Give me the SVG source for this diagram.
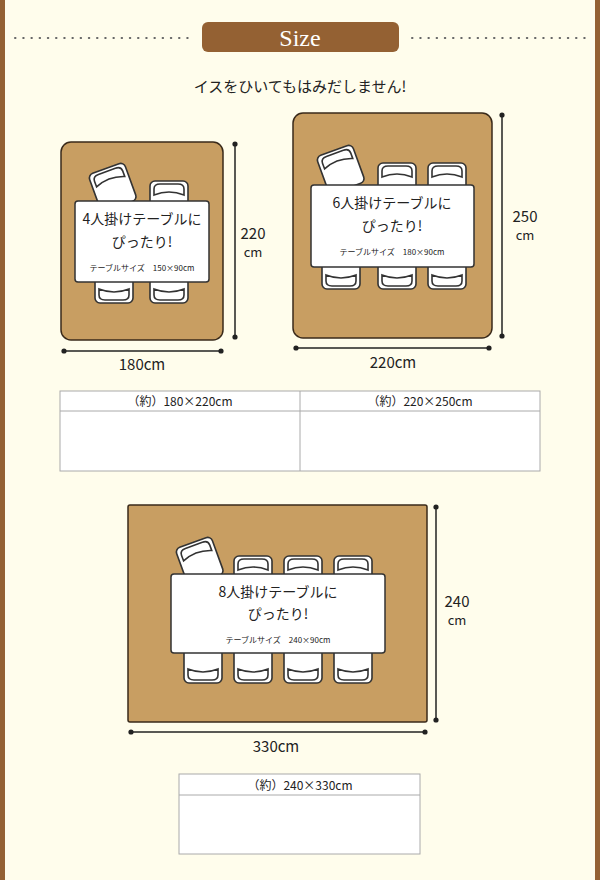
<svg xmlns="http://www.w3.org/2000/svg" xmlns:xlink="http://www.w3.org/1999/xlink" width="600" height="880" viewBox="0 0 600 880">
<style>
.rug{fill:#c89e62;stroke:#3a2a1a;stroke-width:1.5}
.tbl{fill:#fff;stroke:#333;stroke-width:1.5}
.ch{fill:#fff;stroke:#333;stroke-width:1.6}
.dim{stroke:#222;stroke-width:1.5}
.t{font-family:"Noto Sans CJK JP","Liberation Sans",sans-serif;fill:#222}
.grid{fill:#fff;stroke:#aaa;stroke-width:1}
</style>
<defs>
<g id="chair"><rect class="ch" x="0" y="0" width="38" height="40" rx="5"/><path class="ch" d="M4 14 V8 Q4 3 10 3 H28 Q34 3 34 8 V14 Q19 8 4 14Z"/></g>
<circle id="dot" r="2.6" fill="#222"/>
</defs>
<rect width="600" height="880" fill="#fffdec"/>
<rect x="0" y="0" width="5" height="880" fill="#946133"/>
<rect x="595" y="0" width="5" height="880" fill="#946133"/>
<g id="header">
<line x1="15" y1="38" x2="190" y2="38" stroke="#666" stroke-width="2" stroke-dasharray="0.5 7.7" stroke-linecap="round"/>
<line x1="412" y1="38" x2="590" y2="38" stroke="#666" stroke-width="2" stroke-dasharray="0.5 7.7" stroke-linecap="round"/>
<rect x="202" y="22" width="197" height="30" rx="6" fill="#946133"/>
<text x="300" y="46" text-anchor="middle" font-family="Liberation Serif,serif" font-size="24" fill="#fff">Size</text>
<text class="t" x="300" y="92" text-anchor="middle" font-size="15">イスをひいてもはみだしません!</text>
</g>
<g id="rug1">
<rect class="rug" x="61" y="142" width="162" height="198" rx="10"/>
<use xlink:href="#chair" transform="translate(88,175) rotate(-20)"/>
<use xlink:href="#chair" x="150" y="181"/>
<use xlink:href="#chair" transform="translate(95,303) scale(1,-1)"/>
<use xlink:href="#chair" transform="translate(150,303) scale(1,-1)"/>
<rect class="tbl" x="75" y="201" width="134" height="81" rx="3"/>
<text class="t" x="142" y="224" text-anchor="middle" font-size="14">4人掛けテーブルに</text>
<text class="t" x="142" y="247" text-anchor="middle" font-size="14">ぴったり!</text>
<text class="t" x="142" y="271" text-anchor="middle" font-size="8">テーブルサイズ　150×90cm</text>
</g>
<g id="rug2">
<rect class="rug" x="293" y="113" width="199" height="225" rx="10"/>
<use xlink:href="#chair" transform="translate(316,157) rotate(-20)"/>
<use xlink:href="#chair" x="378" y="163"/>
<use xlink:href="#chair" x="428" y="163"/>
<use xlink:href="#chair" transform="translate(322,289) scale(1,-1)"/>
<use xlink:href="#chair" transform="translate(378,289) scale(1,-1)"/>
<use xlink:href="#chair" transform="translate(428,289) scale(1,-1)"/>
<rect class="tbl" x="311" y="185" width="163" height="82" rx="3"/>
<text class="t" x="392" y="208" text-anchor="middle" font-size="14">6人掛けテーブルに</text>
<text class="t" x="392" y="231" text-anchor="middle" font-size="14">ぴったり!</text>
<text class="t" x="392" y="255" text-anchor="middle" font-size="8">テーブルサイズ　180×90cm</text>
</g>
<g id="rug3">
<rect class="rug" x="128" y="505" width="299" height="217" rx="2"/>
<use xlink:href="#chair" transform="translate(175,549) rotate(-20)"/>
<use xlink:href="#chair" x="234" y="556"/>
<use xlink:href="#chair" x="284" y="556"/>
<use xlink:href="#chair" x="334" y="556"/>
<use xlink:href="#chair" transform="translate(184,683) scale(1,-1)"/>
<use xlink:href="#chair" transform="translate(234,683) scale(1,-1)"/>
<use xlink:href="#chair" transform="translate(284,683) scale(1,-1)"/>
<use xlink:href="#chair" transform="translate(334,683) scale(1,-1)"/>
<rect class="tbl" x="171" y="574" width="214" height="79" rx="3"/>
<text class="t" x="278" y="597" text-anchor="middle" font-size="14">8人掛けテーブルに</text>
<text class="t" x="278" y="619" text-anchor="middle" font-size="14">ぴったり!</text>
<text class="t" x="278" y="643" text-anchor="middle" font-size="8">テーブルサイズ　240×90cm</text>
</g>
<g id="connectors">
<line class="dim" x1="235" y1="144" x2="235" y2="337"/><use xlink:href="#dot" x="235" y="144"/><use xlink:href="#dot" x="235" y="337"/>
<line class="dim" x1="64" y1="351" x2="221" y2="351"/><use xlink:href="#dot" x="64" y="351"/><use xlink:href="#dot" x="221" y="351"/>
<line class="dim" x1="502" y1="115" x2="502" y2="336"/><use xlink:href="#dot" x="502" y="115"/><use xlink:href="#dot" x="502" y="336"/>
<line class="dim" x1="296" y1="348" x2="489" y2="348"/><use xlink:href="#dot" x="296" y="348"/><use xlink:href="#dot" x="489" y="348"/>
<line class="dim" x1="436" y1="507" x2="436" y2="720"/><use xlink:href="#dot" x="436" y="507"/><use xlink:href="#dot" x="436" y="720"/>
<line class="dim" x1="131" y1="732" x2="425" y2="732"/><use xlink:href="#dot" x="131" y="732"/><use xlink:href="#dot" x="425" y="732"/>
</g>
<g id="labels" class="t" font-size="15" text-anchor="middle">
<text x="253" y="239">220</text><text x="253" y="257" font-size="13">cm</text>
<text x="142" y="370">180cm</text>
<text x="525" y="222">250</text><text x="525" y="240" font-size="13">cm</text>
<text x="393" y="368">220cm</text>
<text x="457" y="607">240</text><text x="457" y="625" font-size="13">cm</text>
<text x="276" y="752">330cm</text>
</g>
<g id="table12">
<rect class="grid" x="60" y="391" width="480" height="80"/>
<line x1="60" y1="411" x2="540" y2="411" stroke="#aaa"/>
<line x1="300" y1="391" x2="300" y2="471" stroke="#aaa"/>
<text class="t" x="180" y="406" text-anchor="middle" font-size="12">（約）180×220cm</text>
<text class="t" x="420" y="406" text-anchor="middle" font-size="12">（約）220×250cm</text>
</g>
<g id="table3">
<rect class="grid" x="179" y="774" width="241" height="80"/>
<line x1="179" y1="795" x2="420" y2="795" stroke="#aaa"/>
<text class="t" x="300" y="790" text-anchor="middle" font-size="12">（約）240×330cm</text>
</g>
</svg>
